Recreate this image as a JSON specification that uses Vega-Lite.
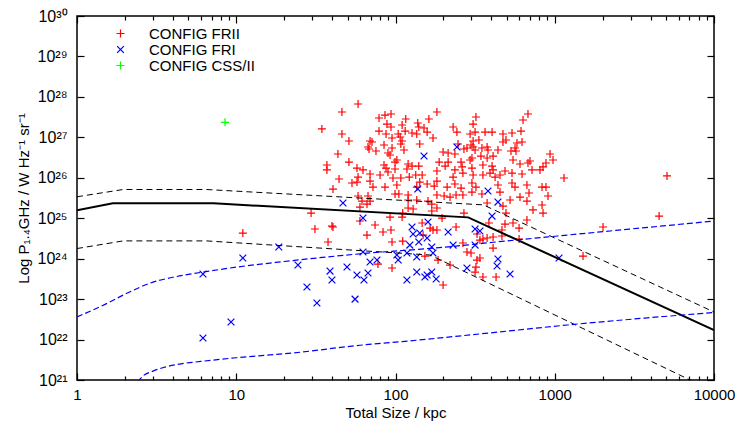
{
"$schema":"https://vega.github.io/schema/vega-lite/v6.json",
"width":637,"height":364,
"autosize":{"type":"none"},
"padding":{"left":77,"top":16,"right":28,"bottom":45},
"background":"white",
"config":{
 "font":"Liberation Sans",
 "view":{"stroke":"black","strokeWidth":1.5},
 "axis":{"grid":false,"domain":false,"labelColor":"black","labelFont":"Liberation Sans","labelFontSize":15,"titleFont":"Liberation Sans","titleFontSize":15,"titleFontWeight":"normal","titleColor":"black"},
 "legend":{"orient":"none","legendX":36,"legendY":10,"title":null,"labelFont":"Liberation Sans","labelFontSize":15,"labelColor":"black","symbolStrokeWidth":1.2,"symbolSize":64,"labelOffset":21,"rowPadding":-1,"padding":0}
},
"datasets":{
 "pts":[
{"s":58.2,"p":6.67e27,"c":"CONFIG FRII"},{"s":46.1,"p":4.23e27,"c":"CONFIG FRII"},{"s":34.5,"p":1.61e27,"c":"CONFIG FRII"},{"s":46.1,"p":1.21e27,"c":"CONFIG FRII"},{"s":51.0,"p":8.11e26,"c":"CONFIG FRII"},{"s":43.5,"p":3.87e26,"c":"CONFIG FRII"},{"s":51.0,"p":2.45e26,"c":"CONFIG FRII"},{"s":37.1,"p":2.07e26,"c":"CONFIG FRII"},{"s":37.1,"p":1.56e26,"c":"CONFIG FRII"},{"s":57.3,"p":1.74e26,"c":"CONFIG FRII"},{"s":62.5,"p":1.56e26,"c":"CONFIG FRII"},{"s":69.2,"p":1.24e26,"c":"CONFIG FRII"},{"s":58.2,"p":1.04e26,"c":"CONFIG FRII"},{"s":44.2,"p":9.32e25,"c":"CONFIG FRII"},{"s":78.8,"p":3.01e27,"c":"CONFIG FRII"},{"s":85.9,"p":3.56e27,"c":"CONFIG FRII"},{"s":93.7,"p":3.77e27,"c":"CONFIG FRII"},{"s":116,"p":2.84e27,"c":"CONFIG FRII"},{"s":78.8,"p":1.43e27,"c":"CONFIG FRII"},{"s":88.4,"p":2.13e27,"c":"CONFIG FRII"},{"s":93.7,"p":1.80e27,"c":"CONFIG FRII"},{"s":110,"p":2.02e27,"c":"CONFIG FRII"},{"s":115,"p":1.43e27,"c":"CONFIG FRII"},{"s":138,"p":2.26e27,"c":"CONFIG FRII"},{"s":140,"p":1.80e27,"c":"CONFIG FRII"},{"s":151,"p":1.70e27,"c":"CONFIG FRII"},{"s":162,"p":2.84e27,"c":"CONFIG FRII"},{"s":182,"p":4.23e27,"c":"CONFIG FRII"},{"s":158,"p":1.35e27,"c":"CONFIG FRII"},{"s":127,"p":1.28e27,"c":"CONFIG FRII"},{"s":136,"p":1.21e27,"c":"CONFIG FRII"},{"s":87.2,"p":1.21e27,"c":"CONFIG FRII"},{"s":104,"p":1.21e27,"c":"CONFIG FRII"},{"s":107,"p":1.02e27,"c":"CONFIG FRII"},{"s":95.1,"p":9.62e26,"c":"CONFIG FRII"},{"s":172,"p":9.62e26,"c":"CONFIG FRII"},{"s":69.2,"p":8.11e26,"c":"CONFIG FRII"},{"s":71.2,"p":7.66e26,"c":"CONFIG FRII"},{"s":110,"p":8.11e26,"c":"CONFIG FRII"},{"s":108,"p":6.84e26,"c":"CONFIG FRII"},{"s":142,"p":6.84e26,"c":"CONFIG FRII"},{"s":84.7,"p":6.46e26,"c":"CONFIG FRII"},{"s":67.2,"p":5.77e26,"c":"CONFIG FRII"},{"s":68.2,"p":5.14e26,"c":"CONFIG FRII"},{"s":75.4,"p":4.59e26,"c":"CONFIG FRII"},{"s":95.1,"p":5.45e26,"c":"CONFIG FRII"},{"s":113,"p":4.86e26,"c":"CONFIG FRII"},{"s":89.7,"p":4.10e26,"c":"CONFIG FRII"},{"s":92.4,"p":3.66e26,"c":"CONFIG FRII"},{"s":102,"p":2.75e26,"c":"CONFIG FRII"},{"s":99.3,"p":2.45e26,"c":"CONFIG FRII"},{"s":188,"p":2.45e26,"c":"CONFIG FRII"},{"s":84.7,"p":2.07e26,"c":"CONFIG FRII"},{"s":87.2,"p":1.74e26,"c":"CONFIG FRII"},{"s":89.7,"p":1.39e26,"c":"CONFIG FRII"},{"s":99.3,"p":1.65e26,"c":"CONFIG FRII"},{"s":120,"p":2.19e26,"c":"CONFIG FRII"},{"s":127,"p":1.95e26,"c":"CONFIG FRII"},{"s":140,"p":1.95e26,"c":"CONFIG FRII"},{"s":118,"p":1.65e26,"c":"CONFIG FRII"},{"s":134,"p":1.17e26,"c":"CONFIG FRII"},{"s":147,"p":1.17e26,"c":"CONFIG FRII"},{"s":182,"p":1.47e26,"c":"CONFIG FRII"},{"s":80.0,"p":1.17e26,"c":"CONFIG FRII"},{"s":96.4,"p":9.87e25,"c":"CONFIG FRII"},{"s":108,"p":9.87e25,"c":"CONFIG FRII"},{"s":122,"p":1.04e26,"c":"CONFIG FRII"},
{"s":679,"p":3.77e27,"c":"CONFIG FRII"},{"s":632,"p":2.68e27,"c":"CONFIG FRII"},{"s":320,"p":3.18e27,"c":"CONFIG FRII"},{"s":307,"p":2.13e27,"c":"CONFIG FRII"},{"s":230,"p":1.80e27,"c":"CONFIG FRII"},{"s":243,"p":1.35e27,"c":"CONFIG FRII"},{"s":294,"p":1.21e27,"c":"CONFIG FRII"},{"s":316,"p":1.35e27,"c":"CONFIG FRII"},{"s":365,"p":1.35e27,"c":"CONFIG FRII"},{"s":404,"p":1.35e27,"c":"CONFIG FRII"},{"s":473,"p":1.21e27,"c":"CONFIG FRII"},{"s":539,"p":1.28e27,"c":"CONFIG FRII"},{"s":614,"p":1.43e27,"c":"CONFIG FRII"},{"s":307,"p":8.11e26,"c":"CONFIG FRII"},{"s":334,"p":8.59e26,"c":"CONFIG FRII"},{"s":473,"p":7.66e26,"c":"CONFIG FRII"},{"s":494,"p":8.59e26,"c":"CONFIG FRII"},{"s":579,"p":7.24e26,"c":"CONFIG FRII"},{"s":623,"p":7.66e26,"c":"CONFIG FRII"},{"s":247,"p":6.84e26,"c":"CONFIG FRII"},{"s":298,"p":6.46e26,"c":"CONFIG FRII"},{"s":199,"p":4.34e26,"c":"CONFIG FRII"},{"s":214,"p":4.10e26,"c":"CONFIG FRII"},{"s":236,"p":3.87e26,"c":"CONFIG FRII"},{"s":269,"p":5.14e26,"c":"CONFIG FRII"},{"s":281,"p":5.45e26,"c":"CONFIG FRII"},{"s":307,"p":5.77e26,"c":"CONFIG FRII"},{"s":316,"p":4.86e26,"c":"CONFIG FRII"},{"s":349,"p":5.45e26,"c":"CONFIG FRII"},{"s":376,"p":5.77e26,"c":"CONFIG FRII"},{"s":381,"p":4.86e26,"c":"CONFIG FRII"},{"s":440,"p":4.86e26,"c":"CONFIG FRII"},{"s":531,"p":4.59e26,"c":"CONFIG FRII"},{"s":563,"p":5.45e26,"c":"CONFIG FRII"},{"s":571,"p":4.59e26,"c":"CONFIG FRII"},{"s":344,"p":3.45e26,"c":"CONFIG FRII"},{"s":376,"p":3.08e26,"c":"CONFIG FRII"},{"s":410,"p":3.45e26,"c":"CONFIG FRII"},{"s":294,"p":2.75e26,"c":"CONFIG FRII"},{"s":302,"p":3.08e26,"c":"CONFIG FRII"},{"s":258,"p":2.45e26,"c":"CONFIG FRII"},{"s":214,"p":2.45e26,"c":"CONFIG FRII"},{"s":205,"p":1.95e26,"c":"CONFIG FRII"},{"s":236,"p":1.56e26,"c":"CONFIG FRII"},{"s":262,"p":1.85e26,"c":"CONFIG FRII"},{"s":265,"p":1.31e26,"c":"CONFIG FRII"},{"s":302,"p":1.74e26,"c":"CONFIG FRII"},{"s":307,"p":1.17e26,"c":"CONFIG FRII"},{"s":354,"p":2.07e26,"c":"CONFIG FRII"},{"s":404,"p":1.95e26,"c":"CONFIG FRII"},{"s":410,"p":1.56e26,"c":"CONFIG FRII"},{"s":354,"p":1.17e26,"c":"CONFIG FRII"},{"s":392,"p":1.31e26,"c":"CONFIG FRII"},{"s":422,"p":1.04e26,"c":"CONFIG FRII"},{"s":453,"p":1.17e26,"c":"CONFIG FRII"},{"s":487,"p":1.47e26,"c":"CONFIG FRII"},{"s":547,"p":2.75e26,"c":"CONFIG FRII"},{"s":605,"p":2.19e26,"c":"CONFIG FRII"},{"s":679,"p":2.32e26,"c":"CONFIG FRII"},{"s":699,"p":2.6e26,"c":"CONFIG FRII"},{"s":539,"p":1.31e26,"c":"CONFIG FRII"},{"s":623,"p":1.24e26,"c":"CONFIG FRII"},{"s":720,"p":1.56e26,"c":"CONFIG FRII"},{"s":808,"p":1.56e26,"c":"CONFIG FRII"},{"s":844,"p":1.85e26,"c":"CONFIG FRII"},{"s":881,"p":2.32e26,"c":"CONFIG FRII"},{"s":934,"p":3.87e26,"c":"CONFIG FRII"},{"s":975,"p":2.75e26,"c":"CONFIG FRII"},{"s":1143,"p":9.87e25,"c":"CONFIG FRII"},{"s":230,"p":1.04e26,"c":"CONFIG FRII"},
{"s":53.3,"p":7.42e25,"c":"CONFIG FRII"},{"s":57.3,"p":7.85e25,"c":"CONFIG FRII"},{"s":69.2,"p":8.31e25,"c":"CONFIG FRII"},{"s":72.2,"p":5.9e25,"c":"CONFIG FRII"},{"s":85.9,"p":5.9e25,"c":"CONFIG FRII"},{"s":40.5,"p":5.27e25,"c":"CONFIG FRII"},{"s":102,"p":6.62e25,"c":"CONFIG FRII"},{"s":105,"p":3.97e25,"c":"CONFIG FRII"},{"s":99.3,"p":3.97e25,"c":"CONFIG FRII"},{"s":120,"p":3.75e25,"c":"CONFIG FRII"},{"s":136,"p":5.9e25,"c":"CONFIG FRII"},{"s":142,"p":7.85e25,"c":"CONFIG FRII"},{"s":158,"p":7.01e25,"c":"CONFIG FRII"},{"s":175,"p":6.25e25,"c":"CONFIG FRII"},{"s":182,"p":3.75e25,"c":"CONFIG FRII"},{"s":182,"p":8.31e25,"c":"CONFIG FRII"},{"s":58.2,"p":3.54e25,"c":"CONFIG FRII"},{"s":67.2,"p":3.54e25,"c":"CONFIG FRII"},{"s":61.6,"p":2.66e25,"c":"CONFIG FRII"},{"s":66.2,"p":2.24e25,"c":"CONFIG FRII"},{"s":59.8,"p":1.89e25,"c":"CONFIG FRII"},{"s":69.2,"p":2.66e25,"c":"CONFIG FRII"},{"s":120,"p":2.82e25,"c":"CONFIG FRII"},{"s":136,"p":2.82e25,"c":"CONFIG FRII"},{"s":160,"p":2.66e25,"c":"CONFIG FRII"},{"s":169,"p":2.24e25,"c":"CONFIG FRII"},{"s":120,"p":1.79e25,"c":"CONFIG FRII"},{"s":129,"p":1.69e25,"c":"CONFIG FRII"},{"s":169,"p":1.51e25,"c":"CONFIG FRII"},{"s":182,"p":1.79e25,"c":"CONFIG FRII"},{"s":29.5,"p":1.34e25,"c":"CONFIG FRII"},{"s":92.4,"p":1.07e25,"c":"CONFIG FRII"},{"s":110,"p":1.07e25,"c":"CONFIG FRII"},{"s":111,"p":1.34e25,"c":"CONFIG FRII"},{"s":31.2,"p":5.41e24,"c":"CONFIG FRII"},{"s":39.9,"p":6.41e24,"c":"CONFIG FRII"},{"s":40.5,"p":6.06e24,"c":"CONFIG FRII"},{"s":37.7,"p":2.58e24,"c":"CONFIG FRII"},{"s":59.8,"p":8.53e24,"c":"CONFIG FRII"},
{"s":11.0,"p":4.3e24,"c":"CONFIG FRII"},
{"s":74.4,"p":6.79e24,"c":"CONFIG FRII"},{"s":66.2,"p":3.84e24,"c":"CONFIG FRII"},{"s":83.5,"p":4.56e24,"c":"CONFIG FRII"},{"s":93.7,"p":5.11e24,"c":"CONFIG FRII"},{"s":95.1,"p":2.58e24,"c":"CONFIG FRII"},{"s":111,"p":2.73e24,"c":"CONFIG FRII"},{"s":147,"p":7.61e24,"c":"CONFIG FRII"},{"s":149,"p":3.84e24,"c":"CONFIG FRII"},{"s":165,"p":5.72e24,"c":"CONFIG FRII"},{"s":172,"p":5.11e24,"c":"CONFIG FRII"},{"s":182,"p":5.11e24,"c":"CONFIG FRII"},{"s":185,"p":9.25e23,"c":"CONFIG FRII"},{"s":95.1,"p":5.87e23,"c":"CONFIG FRII"},{"s":153,"p":1.16e24,"c":"CONFIG FRII"},{"s":77.6,"p":7.37e23,"c":"CONFIG FRII"},
{"s":211,"p":5.9e25,"c":"CONFIG FRII"},{"s":236,"p":7.01e25,"c":"CONFIG FRII"},{"s":258,"p":5.58e25,"c":"CONFIG FRII"},{"s":302,"p":7.42e25,"c":"CONFIG FRII"},{"s":320,"p":5.9e25,"c":"CONFIG FRII"},{"s":440,"p":6.62e25,"c":"CONFIG FRII"},{"s":453,"p":4.44e25,"c":"CONFIG FRII"},{"s":539,"p":7.42e25,"c":"CONFIG FRII"},{"s":563,"p":5.9e25,"c":"CONFIG FRII"},{"s":669,"p":6.62e25,"c":"CONFIG FRII"},{"s":689,"p":4.2e25,"c":"CONFIG FRII"},{"s":832,"p":5.9e25,"c":"CONFIG FRII"},{"s":881,"p":5.9e25,"c":"CONFIG FRII"},{"s":907,"p":3.54e25,"c":"CONFIG FRII"},{"s":202,"p":3.54e25,"c":"CONFIG FRII"},{"s":220,"p":3.34e25,"c":"CONFIG FRII"},{"s":240,"p":3.75e25,"c":"CONFIG FRII"},{"s":265,"p":3.75e25,"c":"CONFIG FRII"},{"s":302,"p":4.44e25,"c":"CONFIG FRII"},{"s":349,"p":3.97e25,"c":"CONFIG FRII"},{"s":376,"p":2.38e25,"c":"CONFIG FRII"},{"s":473,"p":2.0e25,"c":"CONFIG FRII"},{"s":524,"p":2.82e25,"c":"CONFIG FRII"},{"s":605,"p":3.34e25,"c":"CONFIG FRII"},{"s":669,"p":2.66e25,"c":"CONFIG FRII"},{"s":730,"p":1.6e25,"c":"CONFIG FRII"},{"s":832,"p":2.12e25,"c":"CONFIG FRII"},{"s":844,"p":1.34e25,"c":"CONFIG FRII"},{"s":269,"p":1.34e25,"c":"CONFIG FRII"},{"s":196,"p":1.01e25,"c":"CONFIG FRII"},{"s":494,"p":1.34e25,"c":"CONFIG FRII"},{"s":669,"p":9.03e24,"c":"CONFIG FRII"},{"s":240,"p":6.06e24,"c":"CONFIG FRII"},{"s":386,"p":7.61e24,"c":"CONFIG FRII"},{"s":466,"p":5.11e24,"c":"CONFIG FRII"},{"s":487,"p":7.18e24,"c":"CONFIG FRII"},{"s":547,"p":7.61e24,"c":"CONFIG FRII"},{"s":597,"p":5.72e24,"c":"CONFIG FRII"},{"s":325,"p":4.07e24,"c":"CONFIG FRII"},{"s":354,"p":3.06e24,"c":"CONFIG FRII"},{"s":410,"p":3.43e24,"c":"CONFIG FRII"},{"s":466,"p":3.63e24,"c":"CONFIG FRII"},{"s":597,"p":3.06e24,"c":"CONFIG FRII"},{"s":265,"p":2.44e24,"c":"CONFIG FRII"},{"s":410,"p":1.83e24,"c":"CONFIG FRII"},{"s":281,"p":1.46e24,"c":"CONFIG FRII"},{"s":298,"p":1.38e24,"c":"CONFIG FRII"},{"s":325,"p":9.25e23,"c":"CONFIG FRII"},{"s":339,"p":1.04e24,"c":"CONFIG FRII"},{"s":320,"p":6.21e23,"c":"CONFIG FRII"},{"s":316,"p":4.67e23,"c":"CONFIG FRII"},{"s":220,"p":6.96e23,"c":"CONFIG FRII"},{"s":354,"p":3.52e23,"c":"CONFIG FRII"},{"s":428,"p":3.52e23,"c":"CONFIG FRII"},{"s":199,"p":2.23e23,"c":"CONFIG FRII"},{"s":1505,"p":1.16e24,"c":"CONFIG FRII"},{"s":339,"p":2.89e24,"c":"CONFIG FRII"},{"s":376,"p":3.24e24,"c":"CONFIG FRII"},
{"s":2010,"p":6.06e24,"c":"CONFIG FRII"},{"s":4520,"p":1.13e25,"c":"CONFIG FRII"},{"s":5070,"p":1.11e26,"c":"CONFIG FRII"},
{"s":151,"p":3.45e26,"c":"CONFIG FRI"},{"s":243,"p":5.77e26,"c":"CONFIG FRI"},{"s":138,"p":5.27e25,"c":"CONFIG FRI"},{"s":46.8,"p":2.38e25,"c":"CONFIG FRI"},{"s":62.5,"p":1.01e25,"c":"CONFIG FRI"},{"s":24.4,"p":6.96e23,"c":"CONFIG FRI"},{"s":38.8,"p":4.94e23,"c":"CONFIG FRI"},{"s":39.9,"p":2.96e23,"c":"CONFIG FRI"},{"s":49.6,"p":6.21e23,"c":"CONFIG FRI"},{"s":57.3,"p":3.94e23,"c":"CONFIG FRI"},{"s":27.8,"p":1.99e23,"c":"CONFIG FRI"},{"s":6.18,"p":4.17e23,"c":"CONFIG FRI"},{"s":11.0,"p":1.04e24,"c":"CONFIG FRI"},{"s":6.18,"p":1.09e22,"c":"CONFIG FRI"},{"s":9.27,"p":2.71e22,"c":"CONFIG FRI"},{"s":18.5,"p":1.94e24,"c":"CONFIG FRI"},{"s":32.1,"p":8.0e22,"c":"CONFIG FRI"},{"s":55.7,"p":1.0e23,"c":"CONFIG FRI"},
{"s":127,"p":6.06e24,"c":"CONFIG FRI"},{"s":129,"p":4.07e24,"c":"CONFIG FRI"},{"s":142,"p":4.3e24,"c":"CONFIG FRI"},{"s":123,"p":2.17e24,"c":"CONFIG FRI"},{"s":140,"p":2.58e24,"c":"CONFIG FRI"},{"s":158,"p":3.24e24,"c":"CONFIG FRI"},{"s":169,"p":1.94e24,"c":"CONFIG FRI"},{"s":172,"p":1.38e24,"c":"CONFIG FRI"},{"s":76.5,"p":9.25e23,"c":"CONFIG FRI"},{"s":69.2,"p":8.26e23,"c":"CONFIG FRI"},{"s":102,"p":1.23e24,"c":"CONFIG FRI"},{"s":104,"p":9.25e23,"c":"CONFIG FRI"},{"s":118,"p":1.38e24,"c":"CONFIG FRI"},{"s":136,"p":1.1e24,"c":"CONFIG FRI"},{"s":136,"p":4.67e23,"c":"CONFIG FRI"},{"s":158,"p":3.94e23,"c":"CONFIG FRI"},{"s":169,"p":4.67e23,"c":"CONFIG FRI"},{"s":180,"p":3.14e23,"c":"CONFIG FRI"},{"s":153,"p":3.52e23,"c":"CONFIG FRI"},{"s":118,"p":2.96e23,"c":"CONFIG FRI"},{"s":67.2,"p":4.41e23,"c":"CONFIG FRI"},{"s":63.4,"p":2.96e23,"c":"CONFIG FRI"},{"s":62.5,"p":1.46e24,"c":"CONFIG FRI"},{"s":160,"p":8.05e24,"c":"CONFIG FRI"},
{"s":381,"p":4.7e25,"c":"CONFIG FRI"},{"s":440,"p":2.51e25,"c":"CONFIG FRI"},{"s":404,"p":1.13e25,"c":"CONFIG FRI"},{"s":214,"p":4.56e24,"c":"CONFIG FRI"},{"s":316,"p":5.41e24,"c":"CONFIG FRI"},{"s":339,"p":4.83e24,"c":"CONFIG FRI"},{"s":230,"p":2.17e24,"c":"CONFIG FRI"},{"s":316,"p":2.17e24,"c":"CONFIG FRI"},{"s":440,"p":9.8e23,"c":"CONFIG FRI"},{"s":434,"p":6.6e23,"c":"CONFIG FRI"},{"s":281,"p":5.87e23,"c":"CONFIG FRI"},{"s":524,"p":4.17e23,"c":"CONFIG FRI"},{"s":1064,"p":1.04e24,"c":"CONFIG FRI"},
{"s":8.5,"p":2.35e27,"c":"CONFIG CSS/II"}
 ],
 "solid":[{"s":1,"p":1.58e25},{"s":1.68,"p":2.34e25},{"s":7.2,"p":2.34e25},{"s":286,"p":1.05e25},{"s":10000,"p":1.72e22}],
 "bdash":[
  {"s":1,"p":3.39e25,"k":"u"},{"s":1.95,"p":5.13e25,"k":"u"},{"s":6.5,"p":5.13e25,"k":"u"},{"s":356,"p":2.14e25,"k":"u"},{"s":10000,"p":4.79e22,"k":"u"},
  {"s":1,"p":1.78e24,"k":"l"},{"s":1.95,"p":2.75e24,"k":"l"},{"s":6.5,"p":2.75e24,"k":"l"},{"s":165,"p":1.23e24,"k":"l"},{"s":10000,"p":5.2e20,"k":"l"}
 ],
 "blue":[
  {"s":1,"p":3.63e22,"k":"u"},{"s":1.5,"p":7.4e22,"k":"u"},{"s":2,"p":1.32e23,"k":"u"},{"s":3,"p":2.63e23,"k":"u"},{"s":4,"p":3.47e23,"k":"u"},{"s":6,"p":4.57e23,"k":"u"},{"s":10,"p":6.17e23,"k":"u"},{"s":20,"p":8.51e23,"k":"u"},{"s":60,"p":1.32e24,"k":"u"},{"s":200,"p":1.91e24,"k":"u"},{"s":500,"p":2.75e24,"k":"u"},{"s":1500,"p":4.17e24,"k":"u"},{"s":10000,"p":8.51e24,"k":"u"},
  {"s":2.4,"p":8.9e20,"k":"l"},{"s":2.6,"p":1.26e21,"k":"l"},{"s":3,"p":1.66e21,"k":"l"},{"s":3.5,"p":2.04e21,"k":"l"},{"s":4.5,"p":2.51e21,"k":"l"},{"s":6,"p":2.88e21,"k":"l"},{"s":10,"p":3.55e21,"k":"l"},{"s":23,"p":4.68e21,"k":"l"},{"s":60,"p":7.24e21,"k":"l"},{"s":110,"p":8.91e21,"k":"l"},{"s":340,"p":1.38e22,"k":"l"},{"s":1200,"p":2.29e22,"k":"l"},{"s":10000,"p":4.68e22,"k":"l"}
 ]
},
"layer":[
 {"data":{"name":"pts"},
  "mark":{"type":"point","filled":false,"strokeWidth":1.2,"size":64,"opacity":1},
  "encoding":{
   "x":{"field":"s","type":"quantitative","scale":{"type":"log","domain":[1,10000],"nice":false},
        "axis":{"orient":"bottom","values":[1,10,100,1000,10000],"format":"d","offset":-7,"tickSize":7,"tickColor":"black","tickWidth":1.2,"labelPadding":7,"title":"Total Size / kpc","titlePadding":3,"labelFlush":false}},
   "y":{"field":"p","type":"quantitative","scale":{"type":"log","domain":[1e21,1e30],"nice":false},
        "axis":{"orient":"left","values":[1e21,1e22,1e23,1e24,1e25,1e26,1e27,1e28,1e29,1e30],"offset":-7,"tickSize":7,"tickColor":"black","tickWidth":1.2,"labelPadding":10,"labelFlush":false,"labelFontSize":16,
        "labelExpr":"'10' + ['\u2070','\u00b9','\u00b2','\u00b3','\u2074','\u2075','\u2076','\u2077','\u2078','\u2079'][floor(round(log(datum.value)/LN10)/10)] + ['\u2070','\u00b9','\u00b2','\u00b3','\u2074','\u2075','\u2076','\u2077','\u2078','\u2079'][round(log(datum.value)/LN10)%10]",
        "title":"Log P\u2081.\u2084GHz / W Hz\u207b\u00b9 sr\u207b\u00b9","titlePadding":6}},
   "color":{"field":"c","type":"nominal","sort":null,"scale":{"domain":["CONFIG FRII","CONFIG FRI","CONFIG CSS/II"],"range":["#ff0000","#0000ff","#00ff00"]},"legend":{"orient":"none","legendX":36,"legendY":10}},
   "shape":{"field":"c","type":"nominal","sort":null,"scale":{"domain":["CONFIG FRII","CONFIG FRI","CONFIG CSS/II"],"range":["M-1,0H1M0,-1V1","M-0.85,-0.85L0.85,0.85M-0.85,0.85L0.85,-0.85","M-1,0H1M0,-1V1"]},"legend":{"orient":"none","legendX":36,"legendY":10}}
  }},
 {"data":{"name":"solid"},
  "mark":{"type":"line","color":"black","strokeWidth":2,"clip":true},
  "encoding":{
   "x":{"field":"s","type":"quantitative","scale":{"type":"log","domain":[1,10000],"nice":false},
        "axis":{"orient":"top","values":[1,10,100,1000,10000],"offset":-7,"tickSize":7,"tickColor":"black","tickWidth":1.2,"labels":false,"title":null}},
   "y":{"field":"p","type":"quantitative","scale":{"type":"log","domain":[1e21,1e30],"nice":false},
        "axis":{"orient":"right","values":[1e21,1e22,1e23,1e24,1e25,1e26,1e27,1e28,1e29,1e30],"offset":-7,"tickSize":7,"tickColor":"black","tickWidth":1.2,"labels":false,"title":null}}
  }},
 {"data":{"name":"bdash"},
  "mark":{"type":"line","color":"black","strokeWidth":1,"strokeDash":[6,4],"clip":true},
  "encoding":{
   "x":{"field":"s","type":"quantitative","scale":{"type":"log","domain":[1,10000],"nice":false},
        "axis":{"orient":"bottom","values":[2,3,4,5,6,7,8,9,20,30,40,50,60,70,80,90,200,300,400,500,600,700,800,900,2000,3000,4000,5000,6000,7000,8000,9000],"offset":-4,"tickSize":4,"tickColor":"black","tickWidth":1.2,"labels":false,"title":null}},
   "y":{"field":"p","type":"quantitative","scale":{"type":"log","domain":[1e21,1e30],"nice":false},"axis":null},
   "detail":{"field":"k"}
  }},
 {"data":{"name":"blue"},
  "mark":{"type":"line","color":"#0000ff","strokeWidth":1.2,"strokeDash":[6,3],"clip":true,"interpolate":"monotone"},
  "encoding":{
   "x":{"field":"s","type":"quantitative","scale":{"type":"log","domain":[1,10000],"nice":false},
        "axis":{"orient":"top","values":[2,3,4,5,6,7,8,9,20,30,40,50,60,70,80,90,200,300,400,500,600,700,800,900,2000,3000,4000,5000,6000,7000,8000,9000],"offset":-4,"tickSize":4,"tickColor":"black","tickWidth":1.2,"labels":false,"title":null}},
   "y":{"field":"p","type":"quantitative","scale":{"type":"log","domain":[1e21,1e30],"nice":false},"axis":null},
   "detail":{"field":"k"}
  }}
]
}
